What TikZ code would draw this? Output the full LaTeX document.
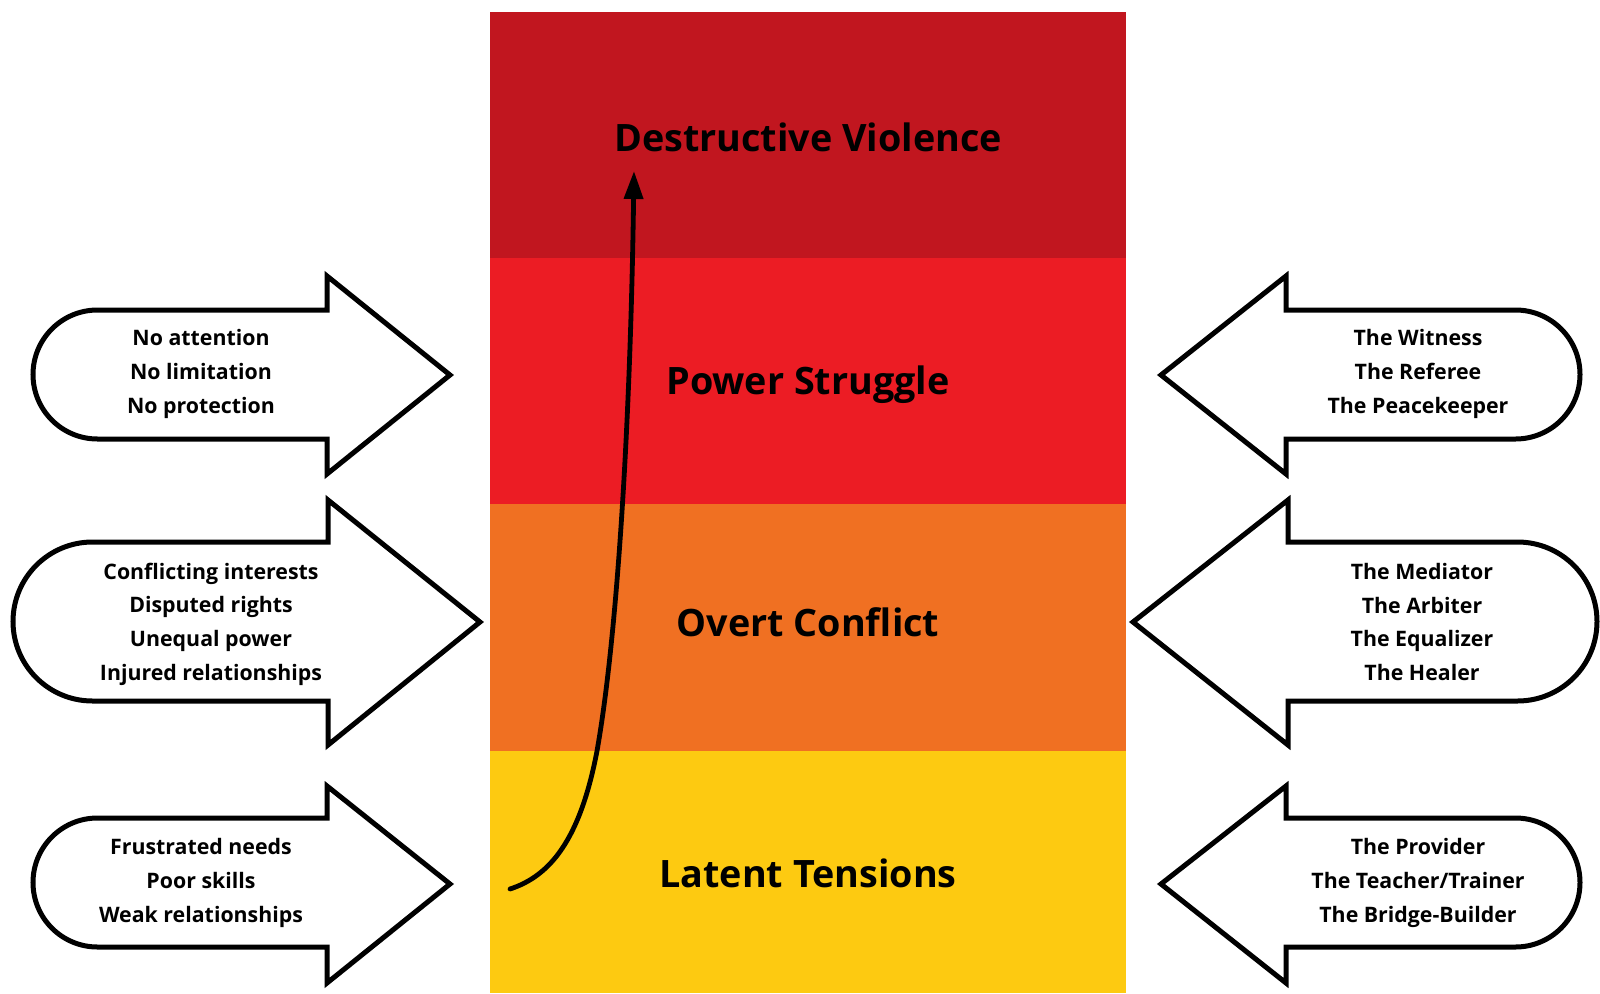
\documentclass[tikz,border=0pt]{standalone}
\usepackage{fontspec}
\setmainfont{Open Sans}
\usetikzlibrary{arrows.meta}
\definecolor{cviol}{HTML}{C1161F}
\definecolor{cpower}{HTML}{EC1C24}
\definecolor{covert}{HTML}{F07022}
\definecolor{clatent}{HTML}{FDCA11}
\begin{document}
\begin{tikzpicture}[x=0.75pt,y=-0.75pt,
  band/.style={rectangle, inner sep=0pt, minimum width=477pt},
  bandtext/.style={inner sep=0pt, font=\fontsize{28.3}{34}\selectfont\bfseries},
  bigarrow/.style={draw=black, line width=3.75pt, fill=white, line join=miter},
  arrowtext/.style={align=center, font=\fontsize{16}{25.3}\selectfont\bfseries, inner sep=0pt},
  curvearrow/.style={line width=3.6pt, line cap=round, -{Triangle[length=21pt,width=14pt]}}]
\useasboundingbox (0,0) rectangle (1600,993);
% bands
\node[band, fill=cviol, minimum height=184.5pt] (viol) at (808,135) {};
\node[band, fill=cpower, minimum height=184.5pt] (power) at (808,381) {};
\node[band, fill=covert, minimum height=185.25pt] (overt) at (808,627.5) {};
\node[band, fill=clatent, minimum height=181.5pt] (latent) at (808,872) {};
\node[bandtext] (violtext) at (808,137.5) {Destructive Violence};
\node[bandtext] (powertext) at (808,385) {Power Struggle};
\node[bandtext] (overttext) at (808,622.5) {Overt Conflict};
\node[bandtext] (latenttext) at (808,873) {Latent Tensions};
% left arrows
\draw[bigarrow] (97.5,310) -- (327,310) -- (327,276) -- (450,375) -- (327,474) -- (327,439) -- (97.5,439) arc[start angle=90, end angle=270, radius=64.5] -- cycle;
\draw[bigarrow] (92.5,542) -- (328,542) -- (328,500) -- (480,622) -- (328,745) -- (328,701) -- (92.5,701) arc[start angle=90, end angle=270, radius=79.5] -- cycle;
\draw[bigarrow] (97.5,818) -- (327,818) -- (327,786) -- (450,884) -- (327,983) -- (327,947) -- (97.5,947) arc[start angle=90, end angle=270, radius=64.5] -- cycle;
% right arrows
\draw[bigarrow] (1515.5,310) -- (1286,310) -- (1286,276) -- (1161,375) -- (1286,474) -- (1286,439) -- (1515.5,439) arc[start angle=90, end angle=-90, radius=64.5] -- cycle;
\draw[bigarrow] (1517.5,542) -- (1288,542) -- (1288,500) -- (1133,622) -- (1288,745) -- (1288,701) -- (1517.5,701) arc[start angle=90, end angle=-90, radius=79.5] -- cycle;
\draw[bigarrow] (1515.5,818) -- (1286,818) -- (1286,786) -- (1161,884) -- (1286,983) -- (1286,947) -- (1515.5,947) arc[start angle=90, end angle=-90, radius=64.5] -- cycle;
% texts
\node[arrowtext] (l1) at (201,374) {No attention\\No limitation\\No protection};
\node[arrowtext] (l2) at (211,624) {Conflicting interests\\Disputed rights\\Unequal power\\Injured relationships};
\node[arrowtext] (l3) at (201,883) {Frustrated needs\\Poor skills\\Weak relationships};
\node[arrowtext] (r1) at (1418,374) {The Witness\\The Referee\\The Peacekeeper};
\node[arrowtext] (r2) at (1422,622) {The Mediator\\The Arbiter\\The Equalizer\\The Healer};
\node[arrowtext] (r3) at (1418,883) {The Provider\\The Teacher/Trainer\\The Bridge-Builder};
% escalation curve
\coordinate (cstart) at (510,889);
\coordinate (cmid) at (597,751);
\coordinate (ctip) at (634,171);
\draw[curvearrow] (cstart) .. controls (550,876) and (580,840) .. (cmid) .. controls (615,650) and (630,450) .. (ctip);
\end{tikzpicture}
\end{document}
